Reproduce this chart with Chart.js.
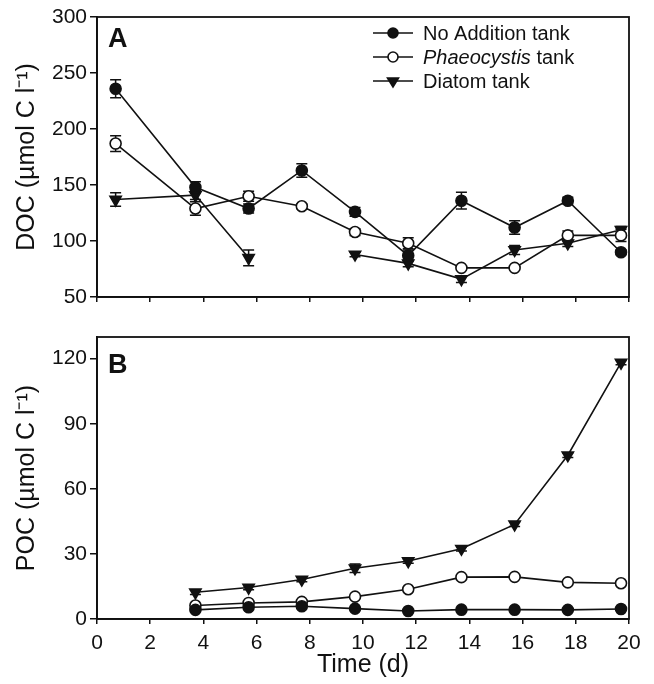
<!DOCTYPE html>
<html>
<head>
<meta charset="utf-8">
<script src="https://cdn.jsdelivr.net/npm/chart.js@4/dist/chart.umd.min.js"></script>
<style>
  body { margin: 0; background: #fff; }
  canvas { position: absolute; left: 0; }
  #doc { top: 0; }
  #poc { top: 320px; }
</style>
</head>
<body>
<canvas id="doc" width="654" height="320"></canvas>
<canvas id="poc" width="654" height="364"></canvas>
<script>
try {

// sampling days
const docDays = [0.7, 3.7, 5.7, 7.7, 9.7, 11.7, 13.7, 15.7, 17.7, 19.7];
const pocDays = [3.7, 5.7, 7.7, 9.7, 11.7, 13.7, 15.7, 17.7, 19.7];

// DOC (panel A) with error bars
const docNoAdd    = [236, 148, 129, 163, 126, 87, 136, 112, 136, 90];
const docNoAddErr = [8, 5, 4, 6, 4, 5, 7.5, 6, 3, 2];
const docPhaeo    = [187, 129, 140, 131, 108, 98, 76, 76, 105, 105];
const docPhaeoErr = [7, 6, 4.5, 2, 3, 5, 2, 2, 4, 5.5];
const docDiatom   = [137, 141, 85, null, 88, 80, 66, 92, 98, 110];
const docDiatomErr = [6, 4, 7, 0, 2, 3, 3, 4, 3, 3];

// POC (panel B)
const pocNoAdd  = [4.2, 5.4, 5.9, 4.8, 3.7, 4.3, 4.3, 4.2, 4.6];
const pocPhaeo  = [6.2, 7.4, 7.9, 10.3, 13.7, 19.3, 19.4, 16.9, 16.5];
const pocDiatom = [12.3, 14.5, 18.2, 23.4, 26.7, 32.4, 43.6, 75.5, 118.2];
const pocDiatomErr = [1, 1, 1, 2, 1, 1, 1, 1, 1];

const xTicks = [0, 2, 4, 6, 8, 10, 12, 14, 16, 18, 20];
const legendLabels = ['No Addition tank', 'Phaeocystis tank', 'Diatom tank'];

const FONT = '"Liberation Sans", Arial, sans-serif';
const INK = '#111';

function pts(days, vals) {
  return days.map((d, i) => ({ x: d, y: vals[i] }));
}

function series(label, days, vals, style) {
  return Object.assign({
    label: label,
    data: pts(days, vals),
    borderColor: INK,
    borderWidth: 1.6,
    pointBorderColor: INK,
    pointBorderWidth: 1.6,
    tension: 0,
    spanGaps: false
  }, style);
}

const styleNoAdd  = { pointStyle: 'circle', pointRadius: 5.5, pointBackgroundColor: INK };
const stylePhaeo  = { pointStyle: 'circle', pointRadius: 5.5, pointBackgroundColor: '#fff' };
const styleDiatom = { pointStyle: 'triangle', pointRotation: 180, pointRadius: 6.5, pointBackgroundColor: INK };

// marker for the hand drawn legend
function marker(ctx, kind, x, y) {
  ctx.save();
  ctx.lineWidth = 1.6;
  ctx.strokeStyle = INK;
  ctx.beginPath();
  if (kind === 2) {
    ctx.moveTo(x - 5.5, y - 3);
    ctx.lineTo(x + 5.5, y - 3);
    ctx.lineTo(x, y + 6);
    ctx.closePath();
    ctx.fillStyle = INK;
  } else {
    ctx.arc(x, y, 5, 0, Math.PI * 2);
    ctx.fillStyle = kind === 0 ? INK : '#fff';
  }
  ctx.fill();
  ctx.stroke();
  ctx.restore();
}

const panelExtras = {
  id: 'panelExtras',
  beforeDatasetsDraw(chart, args, opts) {
    const errs = opts.errors || [];
    const ctx = chart.ctx;
    const xs = chart.scales.x, ys = chart.scales.y;
    ctx.save();
    ctx.strokeStyle = INK;
    ctx.lineWidth = 1.5;
    chart.data.datasets.forEach((ds, di) => {
      const e = errs[di];
      if (!e) return;
      ds.data.forEach((p, i) => {
        if (p.y == null || !e[i]) return;
        const px = xs.getPixelForValue(p.x);
        const y1 = ys.getPixelForValue(p.y - e[i]);
        const y2 = ys.getPixelForValue(p.y + e[i]);
        ctx.beginPath();
        ctx.moveTo(px, y1); ctx.lineTo(px, y2);
        ctx.moveTo(px - 5.5, y1); ctx.lineTo(px + 5.5, y1);
        ctx.moveTo(px - 5.5, y2); ctx.lineTo(px + 5.5, y2);
        ctx.stroke();
      });
    });
    ctx.restore();
  },
  afterDraw(chart, args, opts) {
    const ctx = chart.ctx;
    const a = chart.chartArea;
    ctx.save();
    ctx.strokeStyle = INK;
    ctx.lineWidth = 1.8;
    ctx.strokeRect(a.left, a.top, a.right - a.left, a.bottom - a.top);

    ctx.fillStyle = INK;
    ctx.font = 'bold 27px ' + FONT;
    ctx.textBaseline = 'alphabetic';
    ctx.fillText(opts.letter, a.left + 11, a.top + opts.letterDy);

    if (opts.legend) {
      ctx.font = '20px ' + FONT;
      ctx.textBaseline = 'middle';
      const rows = [33, 57, 81];
      legendLabels.forEach((lab, i) => {
        const y = rows[i];
        ctx.beginPath();
        ctx.lineWidth = 1.6;
        ctx.moveTo(373, y); ctx.lineTo(413, y);
        ctx.stroke();
        marker(ctx, i, 393, y);
        if (i === 1) {
          const word = lab.split(' ')[0];
          ctx.font = 'italic 20px ' + FONT;
          ctx.fillText(word, 423, y + 1);
          const w = ctx.measureText(word).width;
          ctx.font = '20px ' + FONT;
          ctx.fillText(lab.slice(word.length), 423 + w, y + 1);
        } else {
          ctx.fillText(lab, 423, y + 1);
        }
      });
    }
    ctx.restore();
  }
};

function axisX(showLabels, height) {
  return {
    type: 'linear',
    min: 0, max: 20,
    afterBuildTicks: s => { s.ticks = xTicks.map(v => ({ value: v })); },
    afterFit: s => { s.height = height; },
    ticks: { display: showLabels, color: INK, padding: 7, maxRotation: 0, font: { size: 21, family: FONT } },
    grid: { drawOnChartArea: false, drawTicks: true, tickLength: 5, color: INK, lineWidth: 1.5 },
    border: { display: true, color: INK, width: 1.8 },
    title: showLabels ? { display: true, text: 'Time (d)', color: INK, font: { size: 25, family: FONT }, padding: { top: 0, bottom: 4 } } : { display: false }
  };
}

function axisY(min, max, step, title) {
  return {
    min: min, max: max,
    afterFit: s => { s.width = 97; },
    ticks: { stepSize: step, includeBounds: false, color: INK, padding: 3, font: { size: 21, family: FONT } },
    grid: { drawOnChartArea: false, drawTicks: true, tickLength: 7, color: INK, lineWidth: 1.5 },
    border: { display: true, color: INK, width: 1.8 },
    title: { display: true, text: title, color: INK, font: { size: 25, family: FONT }, padding: { top: 12, bottom: 0 } }
  };
}

new Chart(document.getElementById('doc'), {
  type: 'line',
  data: {
    datasets: [
      series(legendLabels[0], docDays, docNoAdd, styleNoAdd),
      series(legendLabels[1], docDays, docPhaeo, stylePhaeo),
      series(legendLabels[2], docDays, docDiatom, styleDiatom)
    ]
  },
  options: {
    responsive: false,
    animation: false,
    layout: { padding: { top: 17, right: 25, left: 0, bottom: 0 } },
    scales: {
      x: axisX(false, 23),
      y: axisY(50, 300, 50, 'DOC (µmol C l⁻¹)')
    },
    plugins: {
      legend: { display: false },
      tooltip: { enabled: false },
      panelExtras: { letter: 'A', letterDy: 30, legend: true, errors: [docNoAddErr, docPhaeoErr, docDiatomErr] }
    }
  },
  plugins: [panelExtras]
});

new Chart(document.getElementById('poc'), {
  type: 'line',
  data: {
    datasets: [
      series(legendLabels[0], pocDays, pocNoAdd, styleNoAdd),
      series(legendLabels[1], pocDays, pocPhaeo, stylePhaeo),
      series(legendLabels[2], pocDays, pocDiatom, styleDiatom)
    ]
  },
  options: {
    responsive: false,
    animation: false,
    layout: { padding: { top: 17, right: 25, left: 0, bottom: 0 } },
    scales: {
      x: axisX(true, 65),
      y: axisY(0, 130, 30, 'POC (µmol C l⁻¹)')
    },
    plugins: {
      legend: { display: false },
      tooltip: { enabled: false },
      panelExtras: { letter: 'B', letterDy: 36, legend: false, errors: [null, null, pocDiatomErr] }
    }
  },
  plugins: [panelExtras]
});

} catch (err) {
  console.error(err);
}
</script>
</body>
</html>
